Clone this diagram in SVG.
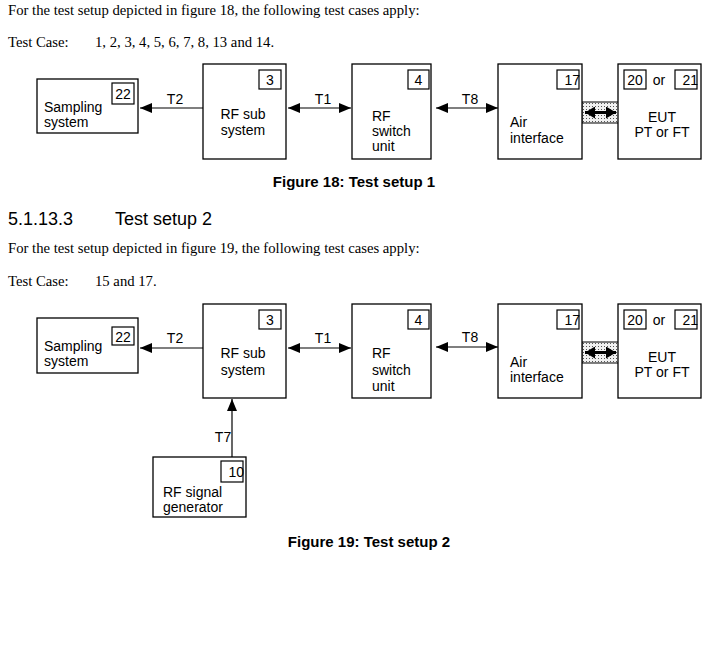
<svg xmlns="http://www.w3.org/2000/svg" width="709" height="656" viewBox="0 0 709 656">
<style>
.body{font-family:"Liberation Serif","Times New Roman",serif;font-size:14.7px;fill:#000}
.lbl{font-family:"Liberation Sans",Arial,sans-serif;font-size:14px;fill:#000}
.cap{font-family:"Liberation Sans",Arial,sans-serif;font-size:15px;font-weight:bold;fill:#000}
.head{font-family:"Liberation Sans",Arial,sans-serif;font-size:18px;fill:#000}
.box{fill:#fff;stroke:#000;stroke-width:1.3}
.nb{fill:#fff;stroke:#000;stroke-width:1.2}
.ln{stroke:#000;stroke-width:1.2;fill:none}
.mid{text-anchor:middle}
.end{text-anchor:end}
</style>
<defs>
<marker id="ah" viewBox="0 0 12 10" refX="12" refY="5" markerWidth="12" markerHeight="10" markerUnits="userSpaceOnUse" orient="auto-start-reverse">
<path d="M0,0 L12,5 L0,10 z" fill="#000"/>
</marker>
<marker id="ahs" viewBox="0 0 10 12" refX="10" refY="6" markerWidth="10" markerHeight="12" markerUnits="userSpaceOnUse" orient="auto-start-reverse">
<path d="M0,0 L10,6 L0,12 z" fill="#000"/>
</marker>
<pattern id="dots" width="3" height="3" patternUnits="userSpaceOnUse">
<rect width="3" height="3" fill="#f0f0f0"/>
<rect x="1" y="1" width="1" height="1" fill="#555"/>
</pattern>
</defs>

<!-- Text -->
<text class="body" x="8" y="15">For the test setup depicted in figure 18, the following test cases apply:</text>
<text class="body" x="8" y="47">Test Case:</text>
<text class="body" x="95" y="47">1, 2, 3, 4, 5, 6, 7, 8, 13 and 14.</text>
<text class="cap mid" x="354" y="187">Figure 18: Test setup 1</text>
<text class="head" x="8" y="225">5.1.13.3</text>
<text class="head" x="115" y="225">Test setup 2</text>
<text class="body" x="8" y="253">For the test setup depicted in figure 19, the following test cases apply:</text>
<text class="body" x="8" y="286">Test Case:</text>
<text class="body" x="95" y="286">15 and 17.</text>
<text class="cap mid" x="369" y="547">Figure 19: Test setup 2</text>

<!-- Figure 18 connectors -->
<g id="connectors18">
<line class="ln" x1="203" y1="108" x2="140" y2="108" marker-end="url(#ah)"/>
<line class="ln" x1="288" y1="108" x2="351" y2="108" marker-start="url(#ah)" marker-end="url(#ah)"/>
<line class="ln" x1="436" y1="108" x2="498" y2="108" marker-start="url(#ah)" marker-end="url(#ah)"/>
<text class="lbl mid" x="175" y="104">T2</text>
<text class="lbl mid" x="323" y="104">T1</text>
<text class="lbl mid" x="470" y="104">T8</text>
<rect x="582" y="102" width="37" height="21" fill="url(#dots)" stroke="#000" stroke-width="1"/>
<line x1="585" y1="112.5" x2="616" y2="112.5" stroke="#000" stroke-width="3" marker-start="url(#ahs)" marker-end="url(#ahs)"/>
</g>

<g id="sampling18">
<rect class="box" x="37" y="79" width="101" height="54"/>
<rect class="nb" x="112" y="83" width="22" height="21"/>
<text class="lbl mid" x="123" y="99">22</text>
<text class="lbl" x="44" y="112">Sampling</text>
<text class="lbl" x="44" y="127">system</text>
</g>
<g id="rfsub18">
<rect class="box" x="203" y="64" width="83" height="95"/>
<rect class="nb" x="259" y="70" width="22" height="19"/>
<text class="lbl mid" x="270" y="85">3</text>
<text class="lbl mid" x="243" y="119">RF sub</text>
<text class="lbl mid" x="243" y="135">system</text>
</g>
<g id="rfswitch18">
<rect class="box" x="352" y="64" width="79" height="95"/>
<rect class="nb" x="408" y="70" width="21" height="19"/>
<text class="lbl mid" x="418.5" y="85">4</text>
<text class="lbl" x="372" y="121">RF</text>
<text class="lbl" x="372" y="136">switch</text>
<text class="lbl" x="372" y="151">unit</text>
</g>
<g id="air18">
<rect class="box" x="498" y="64" width="84" height="95"/>
<text class="lbl end" x="580" y="85">17</text>
<rect x="557" y="70" width="22" height="19" fill="none" stroke="#000" stroke-width="1.2"/>
<text class="lbl" x="510" y="127">Air</text>
<text class="lbl" x="510" y="143">interface</text>
</g>
<g id="eut18">
<rect class="box" x="618" y="64" width="83" height="95"/>
<rect class="nb" x="624" y="70" width="22" height="19"/>
<text class="lbl mid" x="635" y="85">20</text>
<text class="lbl mid" x="659" y="85">or</text>
<text class="lbl end" x="698" y="85">21</text>
<rect x="675" y="70" width="22" height="19" fill="none" stroke="#000" stroke-width="1.2"/>
<text class="lbl mid" x="662" y="122">EUT</text>
<text class="lbl mid" x="662" y="137">PT or FT</text>
</g>

<!-- Figure 19 connectors -->
<g id="connectors19">
<line class="ln" x1="203" y1="348" x2="140" y2="348" marker-end="url(#ah)"/>
<line class="ln" x1="288" y1="348" x2="351" y2="348" marker-start="url(#ah)" marker-end="url(#ah)"/>
<line class="ln" x1="436" y1="347" x2="498" y2="347" marker-start="url(#ah)" marker-end="url(#ah)"/>
<line class="ln" x1="232" y1="457" x2="232" y2="399" marker-end="url(#ah)"/>
<text class="lbl mid" x="175" y="343">T2</text>
<text class="lbl mid" x="323" y="343">T1</text>
<text class="lbl mid" x="470" y="342">T8</text>
<text class="lbl mid" x="223" y="442">T7</text>
<rect x="582" y="342" width="37" height="21" fill="url(#dots)" stroke="#000" stroke-width="1"/>
<line x1="585" y1="352.5" x2="616" y2="352.5" stroke="#000" stroke-width="3" marker-start="url(#ahs)" marker-end="url(#ahs)"/>
</g>

<g id="sampling19">
<rect class="box" x="37" y="318" width="101" height="55"/>
<rect class="nb" x="112" y="327" width="22" height="18"/>
<text class="lbl mid" x="123" y="342">22</text>
<text class="lbl" x="44" y="351">Sampling</text>
<text class="lbl" x="44" y="366">system</text>
</g>
<g id="rfsub19">
<rect class="box" x="203" y="304" width="83" height="94"/>
<rect class="nb" x="259" y="310" width="22" height="19"/>
<text class="lbl mid" x="270" y="325">3</text>
<text class="lbl mid" x="243" y="358">RF sub</text>
<text class="lbl mid" x="243" y="375">system</text>
</g>
<g id="rfswitch19">
<rect class="box" x="352" y="304" width="79" height="94"/>
<rect class="nb" x="408" y="310" width="21" height="19"/>
<text class="lbl mid" x="418.5" y="325">4</text>
<text class="lbl" x="372" y="358">RF</text>
<text class="lbl" x="372" y="375">switch</text>
<text class="lbl" x="372" y="391">unit</text>
</g>
<g id="air19">
<rect class="box" x="498" y="304" width="84" height="94"/>
<text class="lbl end" x="580" y="325">17</text>
<rect x="557" y="310" width="22" height="19" fill="none" stroke="#000" stroke-width="1.2"/>
<text class="lbl" x="510" y="367">Air</text>
<text class="lbl" x="510" y="382">interface</text>
</g>
<g id="eut19">
<rect class="box" x="618" y="304" width="83" height="94"/>
<rect class="nb" x="624" y="310" width="22" height="19"/>
<text class="lbl mid" x="635" y="325">20</text>
<text class="lbl mid" x="659" y="325">or</text>
<text class="lbl end" x="698" y="325">21</text>
<rect x="675" y="310" width="22" height="19" fill="none" stroke="#000" stroke-width="1.2"/>
<text class="lbl mid" x="662" y="362">EUT</text>
<text class="lbl mid" x="662" y="377">PT or FT</text>
</g>
<g id="siggen19">
<rect class="box" x="153" y="457" width="93" height="60"/>
<text class="lbl end" x="244" y="477">10</text>
<rect x="221" y="461" width="22" height="21" fill="none" stroke="#000" stroke-width="1.2"/>
<text class="lbl" x="163" y="497">RF signal</text>
<text class="lbl" x="163" y="512">generator</text>
</g>
</svg>
